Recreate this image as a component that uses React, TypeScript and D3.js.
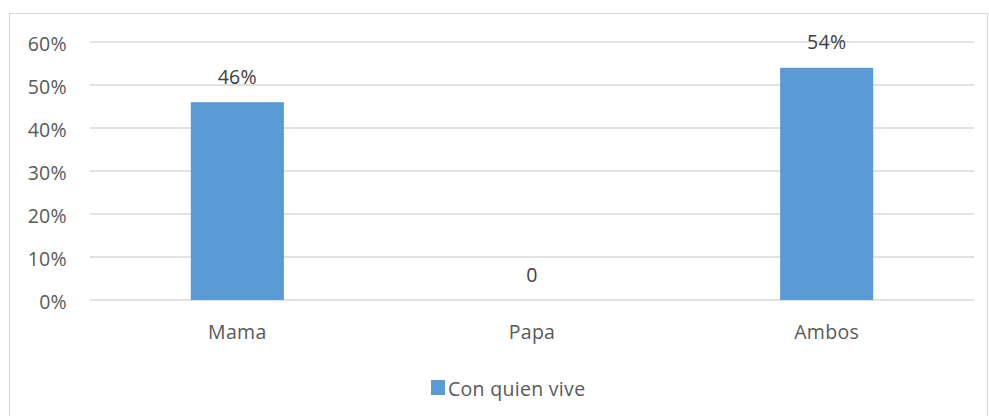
import React from 'react';
import * as d3 from 'd3';

const categories = ['Mama', 'Papa', 'Ambos'];
const values = [0.46, 0, 0.54];
const valueLabels = ['46%', '0', '54%'];
const yTicks = [0, 0.1, 0.2, 0.3, 0.4, 0.5, 0.6];
const seriesName = 'Con quien vive';

const W = 989;
const H = 416;
const margin = { top: 42, right: 15, bottom: 116, left: 90 };
const FONT = "'Open Sans', 'Noto Sans', sans-serif";
const FS = 19.5;

const App: React.FC = () => {
  const innerW = W - margin.left - margin.right;
  const innerH = H - margin.top - margin.bottom;

  const x = d3.scaleBand<string>().domain(categories).range([0, innerW]).padding(0);
  const y = d3.scaleLinear().domain([0, 0.6]).range([innerH, 0]);
  const barW = x.bandwidth() * 0.316;
  const fmt = d3.format('.0%');

  return (
    <svg width={W} height={H} style={{ position: 'absolute', left: 0, top: 0, background: '#fff' }}>
      <rect x={9.5} y={13.5} width={978} height={420} fill="#fff" stroke="#d9d9d9" />
      <g transform={`translate(${margin.left},${margin.top})`}>
        {yTicks.map(t => (
          <g key={t}>
            <line x1={0} x2={innerW} y1={y(t)} y2={y(t)} stroke="#d9d9d9" strokeWidth={1.3} />
            <text x={-23} y={y(t) + 9} textAnchor="end" fontFamily={FONT} fontSize={FS} letterSpacing={0.3} fill="#595959">
              {fmt(t)}
            </text>
          </g>
        ))}
        {categories.map((c, i) => {
          const cx = (x(c) ?? 0) + x.bandwidth() / 2;
          return (
            <g key={c}>
              {values[i] > 0 && (
                <rect x={cx - barW / 2} y={y(values[i])} width={barW} height={innerH - y(values[i])} fill="#5b9bd5" />
              )}
              <text x={cx} y={y(values[i]) - 18.5} textAnchor="middle" fontFamily={FONT} fontSize={FS} letterSpacing={0.3} fill="#404040">
                {valueLabels[i]}
              </text>
              <text x={cx} y={innerH + 39} textAnchor="middle" fontFamily={FONT} fontSize={FS} letterSpacing={0.3} fill="#595959">
                {c}
              </text>
            </g>
          );
        })}
      </g>
      <rect x={431} y={380} width={14} height={15} fill="#5b9bd5" />
      <text x={448} y={396} fontFamily={FONT} fontSize={FS} letterSpacing={0.3} fill="#595959">{seriesName}</text>
    </svg>
  );
};

export default App;
